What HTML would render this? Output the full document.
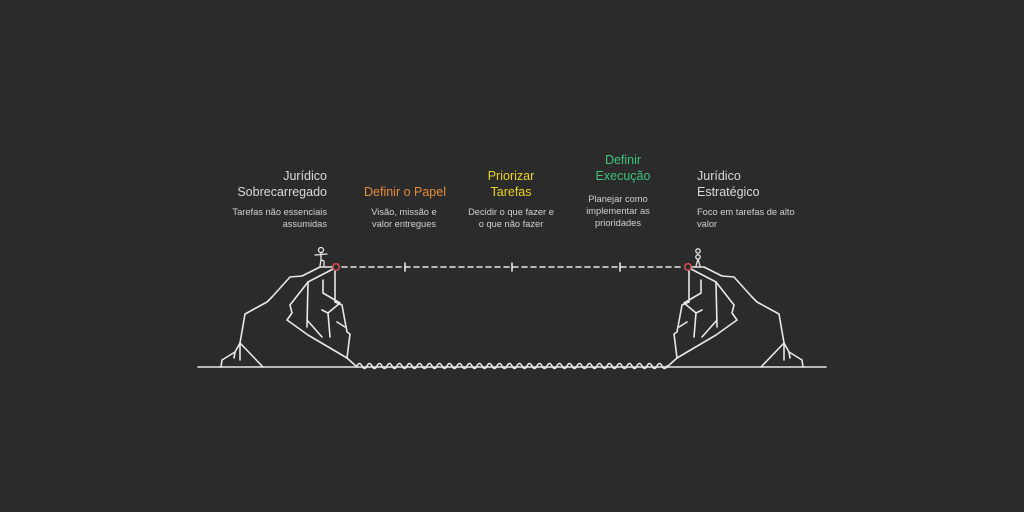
<!DOCTYPE html>
<html><head><meta charset="utf-8"><style>
html,body{margin:0;padding:0;background:#2b2b2b;}
svg{display:block}
text{font-family:"Liberation Sans",sans-serif;}
.t{font-size:12.5px;fill:#d9d9d9}
.d{font-size:9.3px;fill:#d0d0d0}
</style></head><body>
<svg width="1024" height="512" viewBox="0 0 1024 512" xmlns="http://www.w3.org/2000/svg">
<rect width="1024" height="512" fill="#2b2b2b"/>
<g stroke="#e8e8e8" stroke-width="1.6" fill="none" stroke-linejoin="round" stroke-linecap="round">
 <line x1="198" y1="367" x2="826" y2="367"/>
 <path d="M357 366 q2.5 -5 5 0 t5 0 t5 0 t5 0 t5 0 t5 0 t5 0 t5 0 t5 0 t5 0 t5 0 t5 0 t5 0 t5 0 t5 0 t5 0 t5 0 t5 0 t5 0 t5 0 t5 0 t5 0 t5 0 t5 0 t5 0 t5 0 t5 0 t5 0 t5 0 t5 0 t5 0 t5 0 t5 0 t5 0 t5 0 t5 0 t5 0 t5 0 t5 0 t5 0 t5 0 t5 0 t5 0 t5 0 t5 0 t5 0 t5 0 t5 0 t5 0 t5 0 t5 0 t5 0 t5 0 t5 0 t5 0 t5 0 t5 0 t5 0 t5 0 t5 0 t5 0 t5 0"/>
 <line x1="342" y1="267" x2="683" y2="267" stroke-dasharray="5 4"/>
 <line x1="405" y1="263" x2="405" y2="271"/>
 <line x1="512" y1="263" x2="512" y2="271"/>
 <line x1="620" y1="263" x2="620" y2="271"/>
 <g id="cliff">
  <path d="M221 367 L222 360 L235 352 L240 343 L245 314 L267 302 L272 297 L290 277 L302 276 L320 267 L333 267"/>
  <path d="M240 343 L263 367 M240 345 L240 360 M235 352 L234 358"/>
  <path d="M333 269 L308 282 L290 305 L292 313 L287 320 L308 335 L347 358 L357 367"/>
  <path d="M335 271 L335 302 L342 305 L347 332 L350 334 L347 358"/>
  <path d="M308 282 L307 327 M323 280 L323 293 L340 303 M322 310 L328 313 L330 337 M328 313 L340 303 M307 320 L322 337 M337 322 L345 327"/>
 </g>
 <use href="#cliff" transform="translate(1024 0) scale(-1 1)"/>
 <!-- left person -->
 <circle cx="321" cy="250" r="2.5" stroke-width="1.3"/>
 <path d="M321 252.5 L321 260 L324 261 L324 266 M315 255 L327 254 M321 260 L320 266" stroke-width="1.3"/>
 <!-- right person -->
 <circle cx="698" cy="251" r="2.2" stroke-width="1.3"/>
 <circle cx="698" cy="257" r="2.2" stroke-width="1.3"/>
 <path d="M698 259 L696 266 M698 259 L700 266" stroke-width="1.3"/>
</g>
<circle cx="336" cy="267" r="3.3" fill="none" stroke="#e05555" stroke-width="1.4"/>
<circle cx="688" cy="267" r="3.3" fill="none" stroke="#e05555" stroke-width="1.4"/>

<text class="t" text-anchor="end" x="327" y="180">Jurídico</text>
<text class="t" text-anchor="end" x="327" y="196">Sobrecarregado</text>
<text class="d" text-anchor="end" x="327" y="215">Tarefas não essenciais</text>
<text class="d" text-anchor="end" x="327" y="227">assumidas</text>

<text class="t" text-anchor="middle" x="405" y="196" style="fill:#e48c3a">Definir o Papel</text>
<text class="d" text-anchor="middle" x="404" y="215">Visão, missão e</text>
<text class="d" text-anchor="middle" x="404" y="227">valor entregues</text>

<text class="t" text-anchor="middle" x="511" y="180" style="fill:#e8d41e">Priorizar</text>
<text class="t" text-anchor="middle" x="511" y="196" style="fill:#e8d41e">Tarefas</text>
<text class="d" text-anchor="middle" x="511" y="215">Decidir o que fazer e</text>
<text class="d" text-anchor="middle" x="511" y="227">o que não fazer</text>

<text class="t" text-anchor="middle" x="623" y="164" style="fill:#3ec27e">Definir</text>
<text class="t" text-anchor="middle" x="623" y="180" style="fill:#3ec27e">Execução</text>
<text class="d" text-anchor="middle" x="618" y="202">Planejar como</text>
<text class="d" text-anchor="middle" x="618" y="214">implementar as</text>
<text class="d" text-anchor="middle" x="618" y="226">prioridades</text>

<text class="t" x="697" y="180">Jurídico</text>
<text class="t" x="697" y="196">Estratégico</text>
<text class="d" x="697" y="215">Foco em tarefas de alto</text>
<text class="d" x="697" y="227">valor</text>
</svg>
</body></html>
